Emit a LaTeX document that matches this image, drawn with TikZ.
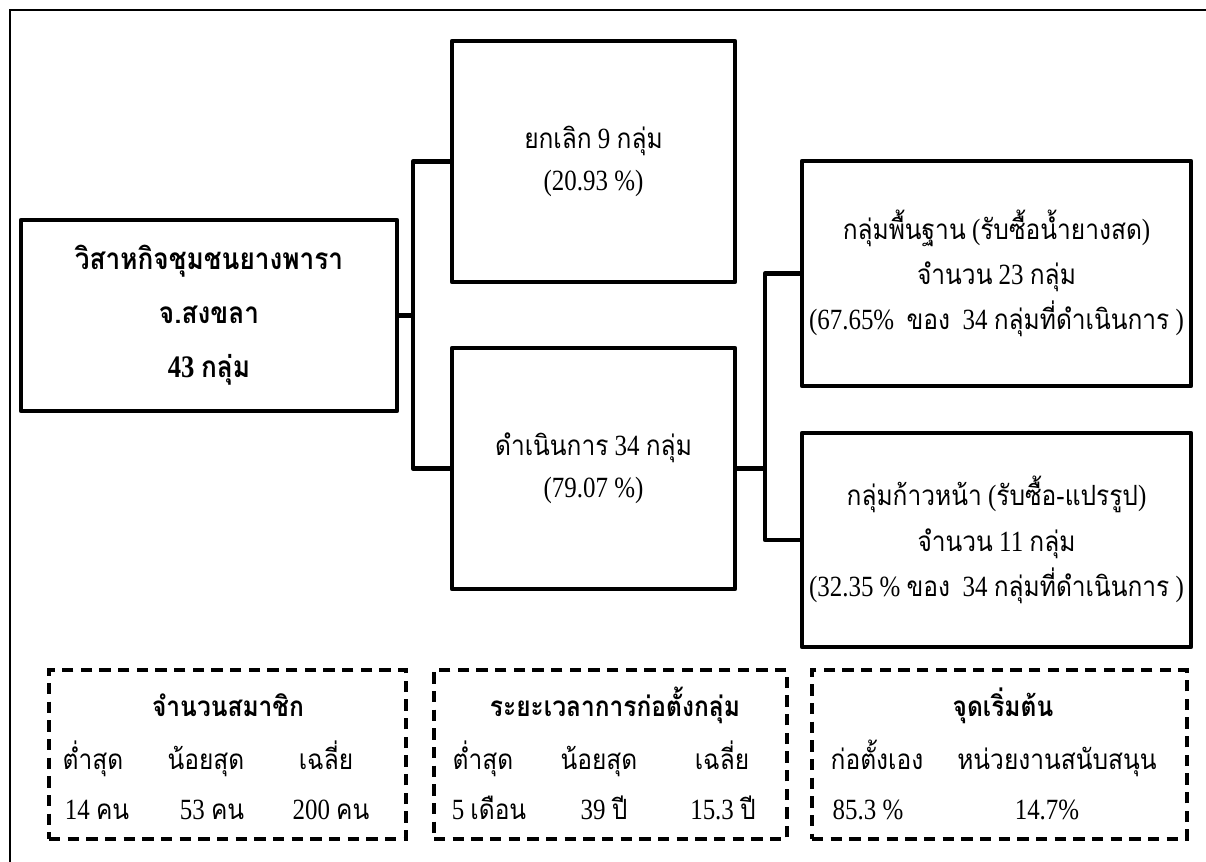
\documentclass[tikz,border=0pt]{standalone}
\usepackage{fontspec}
\usepackage{tikz}
\setmainfont{Liberation Serif}[FakeStretch=0.85]
\newfontfamily\thaifont[Script=Thai,Scale=0.95,FakeStretch=0.88]{Loma}
\newcommand{\thtxt}[1]{{\thaifont #1}}

\begin{document}
\begin{tikzpicture}[x=0.75pt,y=-0.75pt,
    box/.style={draw, line width=3.4pt, line join=round, align=center, inner sep=0pt},
    link/.style={draw, line width=3.4pt, line join=round},
    statbox/.style={draw, line width=2.5pt, dash pattern=on 8.5pt off 5.5pt, minimum height=169*0.75pt},
    txt/.style={font=\fontsize{22}{31.5}\selectfont},
    cell/.style={anchor=base, inner sep=0pt, font=\fontsize{22}{24}\selectfont}]
    \useasboundingbox (0,0) rectangle (1206,862);
    \clip (0,0) rectangle (1206,862);
    \draw[line width=1.8pt] (10,10) rectangle (1230,900);

    \node [box, minimum width=376*0.75pt, minimum height=191*0.75pt,
      font=\fontsize{23.5}{40.5}\selectfont\bfseries] (main) at (209,315.5)
      {\thtxt{วิสาหกิจชุมชนยางพารา}\\\thtxt{จ.สงขลา}\\43 \thtxt{กลุ่ม}};
    \node [box, txt, minimum width=283*0.75pt, minimum height=241*0.75pt] (top) at (593.5,161.5)
      {\thtxt{ยกเลิก} 9 \thtxt{กลุ่ม}\\(20.93 \%)};
    \node [box, txt, minimum width=283*0.75pt, minimum height=241*0.75pt] (mid) at (593.5,468.5)
      {\thtxt{ดำเนินการ} 34 \thtxt{กลุ่ม}\\(79.07 \%)};
    \node [box, minimum width=389*0.75pt, minimum height=225*0.75pt,
      font=\fontsize{22}{34}\selectfont] (rtop) at (996.5,273.5)
      {\thtxt{กลุ่มพื้นฐาน} (\thtxt{รับซื้อน้ำยางสด})\\\thtxt{จำนวน} 23 \thtxt{กลุ่ม}\\(67.65\%~ \thtxt{ของ}~ 34 \thtxt{กลุ่มที่ดำเนินการ} )};
    \node [box, minimum width=389*0.75pt, minimum height=214*0.75pt,
      font=\fontsize{22}{34}\selectfont] (rbot) at (996.5,540)
      {\thtxt{กลุ่มก้าวหน้า} (\thtxt{รับซื้อ}-\thtxt{แปรรูป})\\\thtxt{จำนวน} 11 \thtxt{กลุ่ม}\\(32.35 \% \thtxt{ของ}~ 34 \thtxt{กลุ่มที่ดำเนินการ} )};

    \coordinate (forkA) at (413,315.5);
    \coordinate (forkB) at (765,468.5);
    \draw [link] (main.east) -- (forkA);
    \draw [link] (top.west) -| (forkA) |- (mid.west);
    \draw [link] (mid.east) -- (forkB);
    \draw [link] (rtop.west) -| (forkB) |- (rbot.west);

    \node [statbox, minimum width=357*0.75pt] (member) at (227.5,754.5) {};
    \node [cell, font=\fontsize{22}{24}\selectfont\bfseries] (memT) at (228,716) {\thtxt{จำนวนสมาชิก}};
    \node [cell] (memA) at (93,769) {\thtxt{ต่ำสุด}};
    \node [cell] (memB) at (206,769) {\thtxt{น้อยสุด}};
    \node [cell] (memC) at (326,769) {\thtxt{เฉลี่ย}};
    \node [cell] (memX) at (97,819) {14 \thtxt{คน}};
    \node [cell] (memY) at (212,819) {53 \thtxt{คน}};
    \node [cell] (memZ) at (331,819) {200 \thtxt{คน}};

    \node [statbox, minimum width=353*0.75pt] (period) at (610.5,754.5) {};
    \node [cell, font=\fontsize{22}{24}\selectfont\bfseries] (perT) at (615,716) {\thtxt{ระยะเวลาการก่อตั้งกลุ่ม}};
    \node [cell] (perA) at (483,769) {\thtxt{ต่ำสุด}};
    \node [cell] (perB) at (599,769) {\thtxt{น้อยสุด}};
    \node [cell] (perC) at (722,769) {\thtxt{เฉลี่ย}};
    \node [cell] (perX) at (489,819) {5 \thtxt{เดือน}};
    \node [cell] (perY) at (604,819) {39 \thtxt{ปี}};
    \node [cell] (perZ) at (723,819) {15.3 \thtxt{ปี}};

    \node [statbox, minimum width=375*0.75pt] (origin) at (999.5,754.5) {};
    \node [cell, font=\fontsize{22}{24}\selectfont\bfseries] (oriT) at (1003,716) {\thtxt{จุดเริ่มต้น}};
    \node [cell] (oriA) at (877,769) {\thtxt{ก่อตั้งเอง}};
    \node [cell] (oriB) at (1057,769) {\thtxt{หน่วยงานสนับสนุน}};
    \node [cell] (oriX) at (868,819) {85.3 \%};
    \node [cell] (oriY) at (1047,819) {14.7\%};
\end{tikzpicture}
\end{document}
